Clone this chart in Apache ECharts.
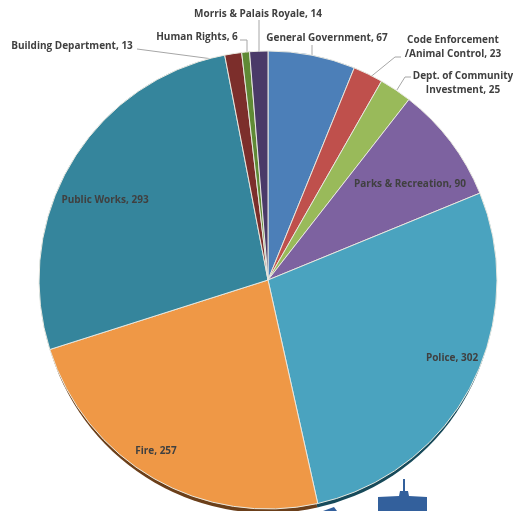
<!DOCTYPE html>
<html>
<head>
<meta charset="utf-8">
<style>
  html, body { margin: 0; padding: 0; background: #fff; }
  #pie { width: 513px; height: 511px; }
</style>
<script src="https://cdn.jsdelivr.net/npm/echarts@6/dist/echarts.min.js"></script>
</head>
<body>
<div id="pie"></div>
<script>
const categories = ['General Government', 'Code Enforcement\n/Animal Control', 'Dept. of Community\nInvestment', 'Parks & Recreation', 'Police', 'Fire', 'Public Works', 'Building Department', 'Human Rights', 'Morris & Palais Royale']
const values = [67, 23, 25, 90, 302, 257, 293, 13, 6, 14]
const colors = ['#4c7fb8', '#bf504c', '#99ba5a', '#7d62a0', '#4aa3bf', '#ef9846', '#35859c', '#7c2e2b', '#5f8a35', '#4a3a68']
const shadowColors = ['#26405c', '#602826', '#4d5d2d', '#3f3150', '#174a5a', '#6b3f1a', '#1a434e', '#3e1716', '#30451a', '#251d34']

// label centres and leader lines, by slice
const labelAt = [[327, 38], [453, 47], [463, 83], [410, 184], [452, 358], [156, 451], [105, 200], [72, 46], [197, 37], [258, 14]]
const leaders = [
  [[312, 45], [312, 61]],
  [[401, 57], [395, 57], [368, 79]],
  [[411, 77], [405, 77], [395, 93]],
  null, null, null, null,
  [[137, 49], [228, 61]],
  [[240, 40], [247, 40], [247, 58]],
  [[259, 20], [259, 57]]
]

let myChart = echarts.init(document.getElementById('pie'))
myChart.setOption({
  animation: false,
  graphic: [
    { type: 'polygon', silent: true, z: 0, shape: { points: [[378, 511], [378, 497], [399, 496], [400, 491], [403, 491], [403, 479], [405, 479], [405, 491], [408, 491], [409, 496], [427, 497], [427, 511]] }, style: { fill: '#33609c' } },
    { type: 'polygon', silent: true, z: 0, shape: { points: [[323, 511], [334, 507], [337, 511]] }, style: { fill: '#33609c' } }
  ],
  series: [
    {
      // darker copy underneath gives the 3D edge
      type: 'pie',
      silent: true,
      radius: 227,
      center: [268, 286],
      startAngle: 90,
      data: categories.map((c, i) => ({ value: values[i], name: c, itemStyle: { color: shadowColors[i] } })),
      label: { show: false },
      labelLine: { show: false }
    },
    {
      type: 'pie',
      radius: 229,
      center: [268, 280],
      startAngle: 90,
      avoidLabelOverlap: false,
      itemStyle: { borderColor: '#e8e8e0', borderWidth: 1 },
      data: categories.map((c, i) => ({
        value: values[i],
        name: c,
        itemStyle: { color: colors[i] },
        labelLine: { show: leaders[i] !== null }
      })),
      label: {
        formatter: '{b}, {c}',
        fontFamily: 'Open Sans',
        fontWeight: 'bold',
        fontSize: 10,
        lineHeight: 14,
        color: '#404040',
        overflow: 'none',
        align: 'center'
      },
      labelLine: { lineStyle: { color: '#a6a6a6', width: 1 } },
      labelLayout: function (params) {
        const i = params.dataIndex
        const out = { x: labelAt[i][0], y: labelAt[i][1], align: 'center', verticalAlign: 'middle', hideOverlap: false }
        if (leaders[i]) out.labelLinePoints = leaders[i]
        return out
      }
    }
  ]
})
</script>
</body>
</html>
